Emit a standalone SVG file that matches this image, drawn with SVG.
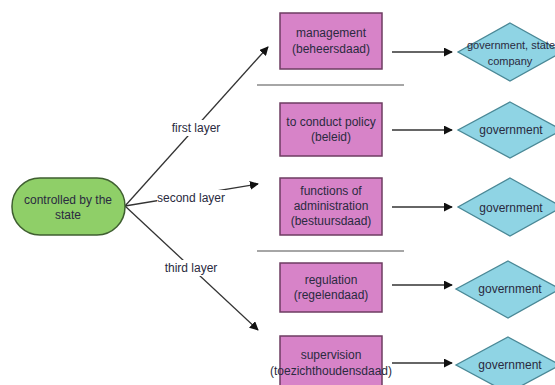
<svg xmlns="http://www.w3.org/2000/svg" width="555" height="385" viewBox="0 0 555 385">
<defs>
<marker id="ah" viewBox="0 0 10 10" refX="9" refY="5" markerWidth="9" markerHeight="9" markerUnits="userSpaceOnUse" orient="auto">
<path d="M0,0 L10,5 L0,10 z" fill="#111"/>
</marker>
<style>
text{font-family:"Liberation Sans",Arial,sans-serif;font-size:12px;fill:#2a2a40;text-anchor:middle;dominant-baseline:central}
.box{fill:#d783c8;stroke:#6e3d62;stroke-width:1.5}
.dia{fill:#8fd4e4;stroke:#4a8896;stroke-width:1.3}
.start{fill:#8fcf68;stroke:#3f5f30;stroke-width:1.5}
.edge{stroke:#333;stroke-width:1.3;fill:none;marker-end:url(#ah)}
.sep{stroke:#888;stroke-width:1.5}
.lbl{fill:#fff}
.small{font-size:11px}
</style>
</defs>
<rect width="555" height="385" fill="#fff"/>
<g id="separators">
<line class="sep" x1="257" y1="85" x2="404" y2="85"/>
<line class="sep" x1="257" y1="251" x2="404" y2="251"/>
</g>
<g id="connectors">
<line class="edge" x1="125" y1="206" x2="268" y2="47"/>
<line class="edge" x1="125" y1="206" x2="258" y2="184"/>
<line class="edge" x1="125" y1="206" x2="258" y2="330"/>
<rect class="lbl" x="168" y="120" width="56" height="16"/>
<text x="196" y="128">first layer</text>
<rect class="lbl" x="157" y="190" width="68" height="15"/>
<text x="191" y="198">second layer</text>
<rect class="lbl" x="163" y="260" width="56" height="16"/>
<text x="191" y="268">third layer</text>
<line class="edge" x1="392" y1="52" x2="452" y2="52"/>
<line class="edge" x1="392" y1="130" x2="452" y2="130"/>
<line class="edge" x1="392" y1="207" x2="452" y2="207"/>
<line class="edge" x1="392" y1="285" x2="452" y2="285"/>
<line class="edge" x1="392" y1="363" x2="452" y2="363"/>
</g>
<g id="state">
<rect class="start" x="12" y="178" width="113" height="57" rx="28" ry="28"/>
<text x="68" y="200">controlled by the</text>
<text x="68" y="215">state</text>
</g>
<g id="management">
<rect class="box" x="280" y="13" width="102" height="56"/>
<text x="331" y="33">management</text>
<text x="331" y="49">(beheersdaad)</text>
</g>
<g id="policy">
<rect class="box" x="280" y="103" width="102" height="53"/>
<text x="331" y="122">to conduct policy</text>
<text x="331" y="137">(beleid)</text>
</g>
<g id="administration">
<rect class="box" x="280" y="178" width="102" height="57"/>
<text x="331" y="191">functions of</text>
<text x="331" y="206">administration</text>
<text x="331" y="221">(bestuursdaad)</text>
</g>
<g id="regulation">
<rect class="box" x="280" y="263" width="102" height="49"/>
<text x="331" y="280">regulation</text>
<text x="331" y="295">(regelendaad)</text>
</g>
<g id="supervision">
<rect class="box" x="280" y="336" width="102" height="56"/>
<text x="331" y="355">supervision</text>
<text x="331" y="371">(toezichthoudensdaad)</text>
</g>
<g id="gov1">
<polygon class="dia" points="510,23 562,52 510,81 458,52"/>
<text class="small" x="511" y="45">government, state</text>
<text class="small" x="510" y="61">company</text>
</g>
<g id="gov2">
<polygon class="dia" points="510,102 562,130 510,158 458,130"/>
<text x="511" y="130">government</text>
</g>
<g id="gov3">
<polygon class="dia" points="510,178 562,207 510,236 458,207"/>
<text x="511" y="208">government</text>
</g>
<g id="gov4">
<polygon class="dia" points="508,261 560,289 508,318 456,289"/>
<text x="510" y="289">government</text>
</g>
<g id="gov5">
<polygon class="dia" points="508,337 560,365 508,393 456,365"/>
<text x="510" y="365">government</text>
</g>
</svg>
